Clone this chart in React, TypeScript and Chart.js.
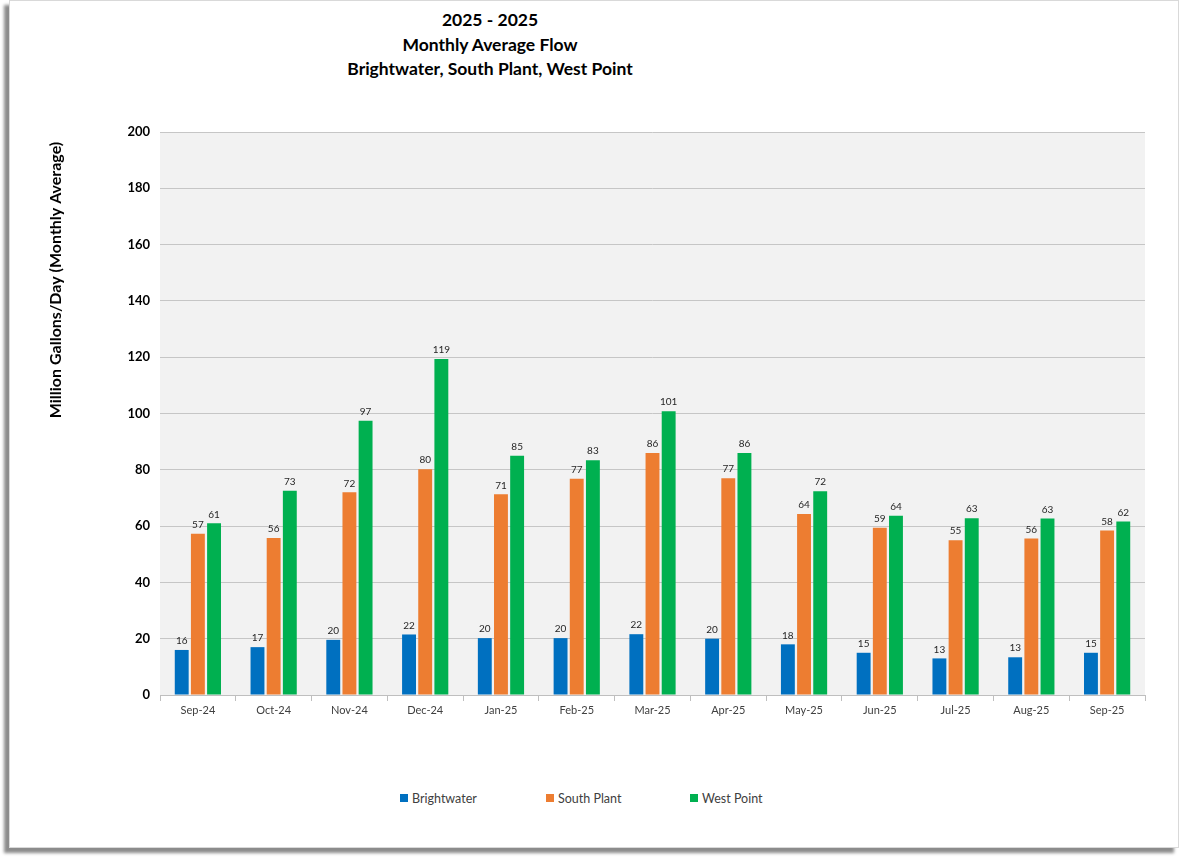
import React, { useRef, useEffect } from "react";
import { Chart, registerables, Plugin } from "chart.js";

Chart.register(...registerables);

const months = [
  "Sep-24", "Oct-24", "Nov-24", "Dec-24", "Jan-25", "Feb-25", "Mar-25",
  "Apr-25", "May-25", "Jun-25", "Jul-25", "Aug-25", "Sep-25",
];
const brightwater = [16, 17, 19.6, 21.5, 20.2, 20.2, 21.6, 20, 18, 15, 13, 13.4, 15];
const southPlant = [57.3, 55.8, 72, 80.2, 71.3, 76.8, 86, 77, 64.3, 59.4, 55, 55.6, 58.4];
const westPoint = [61, 72.6, 97.4, 119.4, 85, 83.4, 100.8, 86, 72.4, 63.7, 62.8, 62.7, 61.6];
const yTicks = [0, 20, 40, 60, 80, 100, 120, 140, 160, 180, 200];

const titleLines = ["2025 - 2025", "Monthly Average Flow", "Brightwater, South Plant, West Point"];
const yAxisTitle = "Million Gallons/Day (Monthly Average)";
const seriesNames = ["Brightwater", "South Plant", "West Point"];
const seriesColors = ["#0070c0", "#ed7d31", "#00b050"];

const FONT = "Lato, 'Open Sans', sans-serif";

// fond gri pentru zona graficului
const plotBackground: Plugin<"bar"> = {
  id: "plotBackground",
  beforeDraw: (chart) => {
    const { ctx, chartArea } = chart;
    ctx.save();
    ctx.fillStyle = "#f2f2f2";
    ctx.fillRect(chartArea.left, chartArea.top, chartArea.right - chartArea.left, chartArea.bottom - chartArea.top);
    ctx.restore();
  },
};

// titlul axei Y, rotit, mai sus decât centrul axei
const yTitle: Plugin<"bar"> = {
  id: "yTitle",
  afterDraw: (chart) => {
    const { ctx } = chart;
    ctx.save();
    ctx.translate(47, 180);
    ctx.rotate(-Math.PI / 2);
    ctx.font = `bold 16px ${FONT}`;
    ctx.fillStyle = "#000000";
    ctx.textAlign = "center";
    ctx.textBaseline = "middle";
    ctx.fillText(yAxisTitle, 0, 0);
    ctx.restore();
  },
};

// etichete cu valori deasupra barelor
const valueLabels: Plugin<"bar"> = {
  id: "valueLabels",
  afterDatasetsDraw: (chart) => {
    const { ctx } = chart;
    ctx.save();
    ctx.font = `10px ${FONT}`;
    ctx.fillStyle = "#262626";
    ctx.textAlign = "center";
    ctx.textBaseline = "bottom";
    chart.data.datasets.forEach((ds, i) => {
      const meta = chart.getDatasetMeta(i);
      meta.data.forEach((bar, j) => {
        const v = ds.data[j] as number;
        ctx.fillText(String(Math.round(v)), bar.x, bar.y - 4);
      });
    });
    ctx.restore();
  },
};

const FlowChart: React.FC = () => {
  const chartRef = useRef<HTMLCanvasElement>(null);
  const chartInstance = useRef<Chart | null>(null);

  useEffect(() => {
    if (!chartRef.current) return;
    if (chartInstance.current) chartInstance.current.destroy();
    const ctx = chartRef.current.getContext("2d");
    if (!ctx) return;

    const series = [brightwater, southPlant, westPoint];

    chartInstance.current = new Chart(ctx, {
      type: "bar",
      data: {
        labels: months,
        datasets: series.map((data, i) => ({
          label: seriesNames[i],
          data,
          backgroundColor: seriesColors[i],
          borderWidth: 0,
          categoryPercentage: 0.64,
          barPercentage: 0.86,
        })),
      },
      options: {
        animation: false,
        responsive: true,
        maintainAspectRatio: false,
        layout: { padding: { left: 36, right: 33, top: 32, bottom: 0 } },
        scales: {
          x: {
            grid: {
              drawOnChartArea: false,
              drawTicks: true,
              tickLength: 6,
              color: "#bfbfbf",
              offset: true,
            },
            border: { display: true, color: "#bfbfbf" },
            ticks: {
              color: "#404040",
              font: { family: FONT, size: 11 },
              padding: 3,
              maxRotation: 0,
            },
            afterFit: (scale) => {
              scale.height = 30;
            },
          },
          y: {
            min: 0,
            max: 200,
            afterBuildTicks: (scale) => {
              scale.ticks = yTicks.map((v) => ({ value: v }));
            },
            grid: { color: "#c6c6c6", drawTicks: false },
            border: { display: false },
            ticks: {
              color: "#000000",
              font: { family: FONT, size: 13, weight: "bold" },
              padding: 10,
            },
            afterFit: (scale) => {
              scale.width = 115;
            },
          },
        },
        plugins: {
          legend: { display: false },
          title: { display: false },
          tooltip: { enabled: false },
        },
      },
      plugins: [plotBackground, valueLabels, yTitle],
    });

    return () => {
      if (chartInstance.current) {
        chartInstance.current.destroy();
        chartInstance.current = null;
      }
    };
  }, []);

  return <canvas ref={chartRef}></canvas>;
};

const legendX = [400, 546, 690];

export default function App() {
  return (
    <div style={{ position: "absolute", left: 0, top: 0, width: 1180, height: 857, background: "#fff", fontFamily: FONT }}>
      <div
        style={{
          position: "absolute",
          left: 9,
          top: 0,
          width: 1168,
          height: 846,
          border: "1px solid #d9d9d9",
          background: "#fff",
          boxShadow: "-5px 5px 3px #8c8c8c",
        }}
      />
      <div
        style={{
          position: "absolute",
          left: 290,
          top: 8,
          width: 400,
          textAlign: "center",
          fontWeight: "bold",
          fontSize: 17.5,
          lineHeight: "24.5px",
          color: "#000",
        }}
      >
        {titleLines.map((t) => (
          <div key={t}>{t}</div>
        ))}
      </div>
      <div style={{ position: "absolute", left: 9, top: 100, width: 1169, height: 625 }}>
        <FlowChart />
      </div>
      {seriesNames.map((name, i) => (
        <div
          key={name}
          style={{
            position: "absolute",
            left: legendX[i],
            top: 790,
            height: 16,
            display: "flex",
            alignItems: "center",
            fontSize: 12.5,
            color: "#404040",
            whiteSpace: "nowrap",
          }}
        >
          <span style={{ display: "inline-block", width: 8, height: 8, background: seriesColors[i], marginRight: 4 }} />
          {name}
        </div>
      ))}
    </div>
  );
}
